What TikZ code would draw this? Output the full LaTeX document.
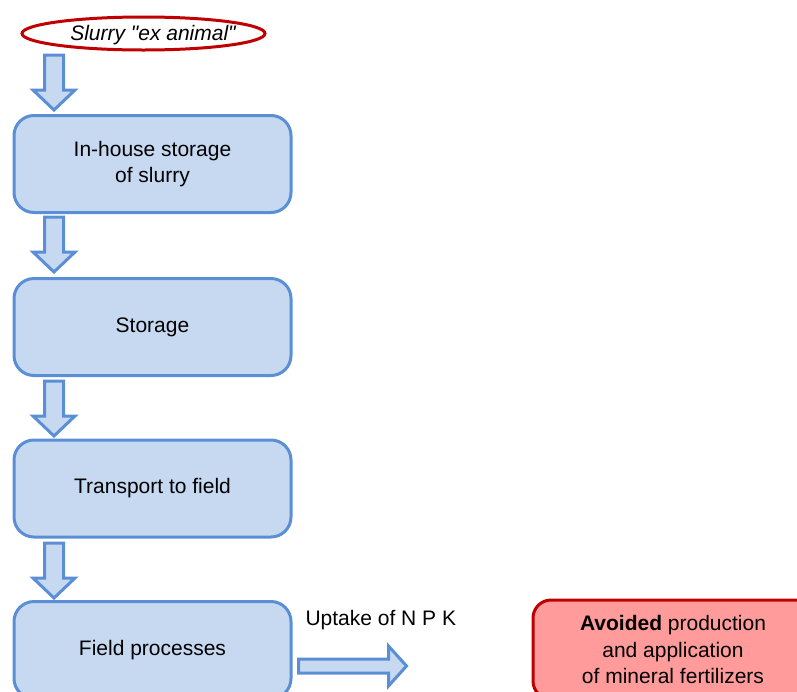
\documentclass[tikz,border=0pt]{standalone}
\usepackage{fontspec}
\setmainfont{Liberation Sans}[Ligatures=TeXOff]
\usetikzlibrary{shapes.geometric}

\definecolor{boxfill}{HTML}{C6D9F1}
\definecolor{boxline}{HTML}{5A8FD6}
\definecolor{redfill}{HTML}{FF9B9B}
\definecolor{redline}{HTML}{C00000}

\tikzset{
  x=1pt, y=-1pt,
  every node/.style={font=\fontsize{21}{26.5}\selectfont},
  stagebox/.style={draw=boxline, fill=boxfill, line width=3pt, rounded corners=20pt,
    minimum width=277pt, minimum height=97pt, align=center, inner sep=0pt},
  avoidbox/.style={draw=redline, fill=redfill, line width=3pt, rounded corners=18pt,
    minimum width=280pt, minimum height=99pt, align=center, inner sep=0pt},
  sourceoval/.style={ellipse, draw=redline, fill=white, line width=3pt,
    minimum width=243pt, minimum height=33pt, inner sep=0pt},
  blockarrow/.style={draw=boxline, fill=boxfill, line width=3pt, line join=miter},
  pics/downblock/.style={code={
    \draw[blockarrow] (-9.5,0) -- (9.5,0) -- (9.5,35) -- (21,35) -- (0,55)
      -- (-21,35) -- (-9.5,35) -- cycle;}},
}

\begin{document}
\begin{tikzpicture}
\useasboundingbox (0,0) rectangle (797,691);
\clip (0,0) rectangle (797,691);

% source of the slurry
\node[sourceoval] (src) at (143.5,33.5) {};
\node[font=\fontsize{21}{26}\selectfont\itshape] (srctext) at (153,35)
  {Slurry "ex animal"};

% process chain
\node[stagebox] (house) at (152.5,164) {In-house storage\\of slurry};
\node[stagebox] (store) at (152.5,327) {Storage};
\node[stagebox] (trans) at (152.5,488.5) {Transport to field};
\node[stagebox] (field) at (152.5,650) {Field processes};

% block arrows between the stages
\pic at (54,55) {downblock};
\pic at (54,217) {downblock};
\pic at (54,381) {downblock};
\pic at (54,543) {downblock};

% nutrient uptake arrow
\coordinate (upt) at (field.east);
\draw[blockarrow] ([xshift=6pt,yshift=-9pt]upt) -- ++(90,0) -- ++(0,-13) -- ++(18,20)
  -- ++(-18,20) -- ++(0,-13) -- ++(-90,0) -- cycle;
\node[anchor=west] (uptlabel) at (302,620) {Uptake of N P K};

% credited fertilizer substitution
\node[avoidbox] (avoid) at (673,649.5)
  {\textbf{Avoided} production\\and application\\of mineral fertilizers};
\end{tikzpicture}
\end{document}
